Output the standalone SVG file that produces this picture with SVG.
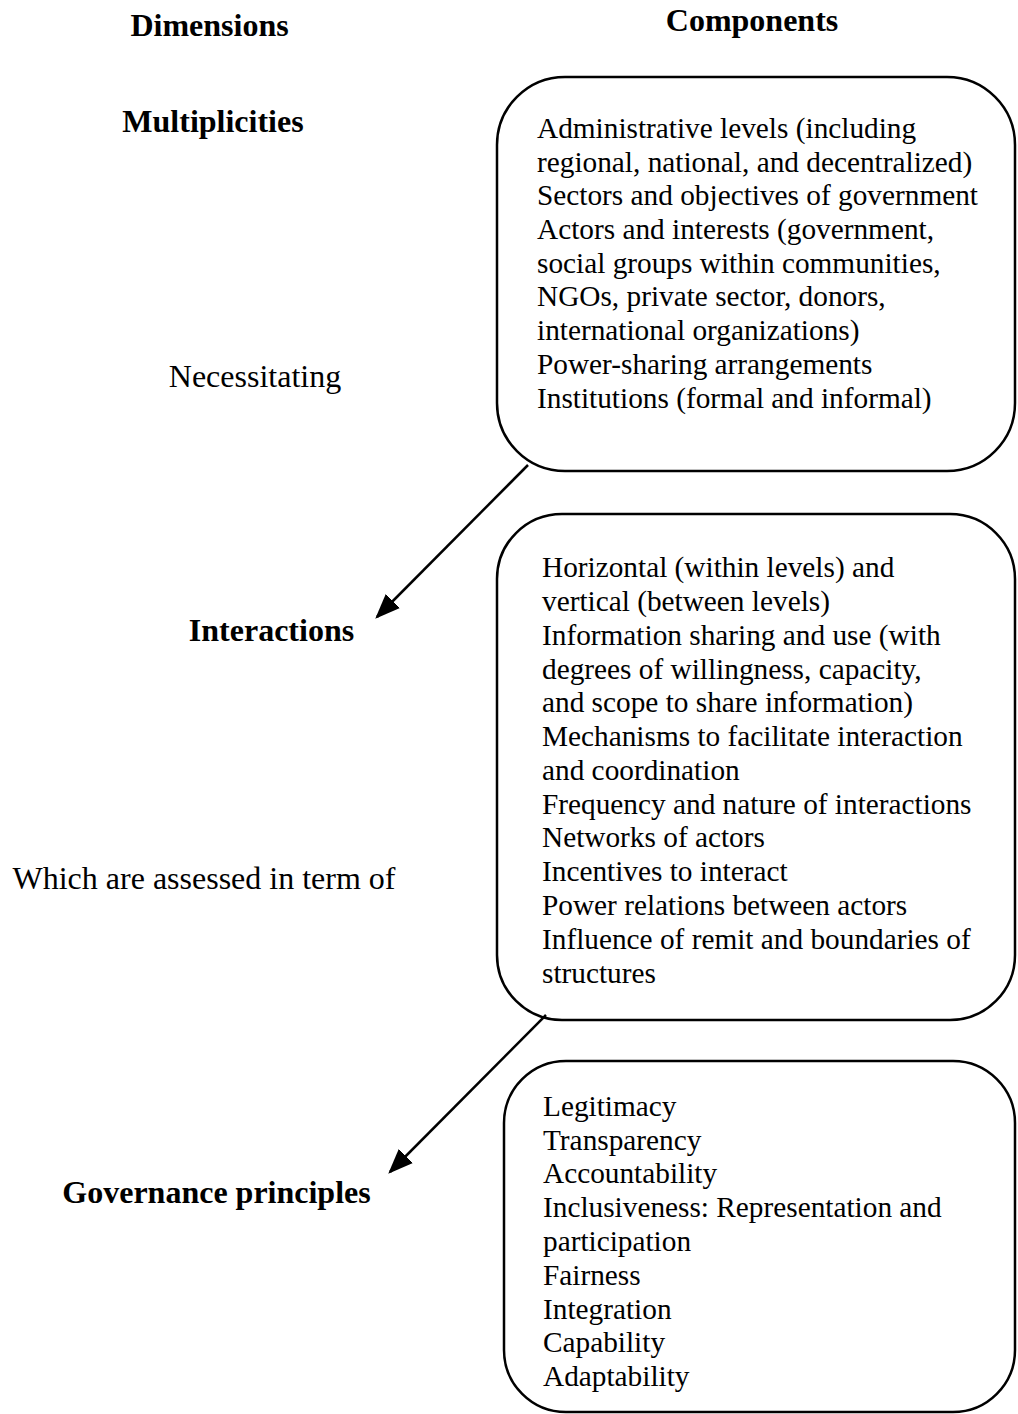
<svg xmlns="http://www.w3.org/2000/svg" width="1018" height="1414" viewBox="0 0 1018 1414">
<style>
text{font-family:"Liberation Serif","Times New Roman",serif;font-size:29.3px;fill:#000}
.lab{font-size:32px}
.b{font-weight:bold;font-size:32px}
.box{fill:#fff;stroke:#000;stroke-width:2.5}
.con{stroke:#000;stroke-width:2.5;fill:none}
</style>
<defs>
<marker id="ah" markerWidth="10" markerHeight="8" refX="9" refY="4" orient="auto" markerUnits="strokeWidth">
<path d="M0,0 L10,4 L0,8 z" fill="#000"/>
</marker>
</defs>
<rect width="1018" height="1414" fill="#fff"/>
<g id="headers">
<text class="b" x="209.5" y="36" text-anchor="middle">Dimensions</text>
<text class="b" x="752" y="31" text-anchor="middle">Components</text>
</g>
<g id="dim-multiplicities"><text class="b" x="213" y="132" text-anchor="middle">Multiplicities</text></g>
<g id="lbl-necessitating"><text class="lab" x="255" y="387" text-anchor="middle">Necessitating</text></g>
<g id="dim-interactions"><text class="b" x="271.5" y="641" text-anchor="middle">Interactions</text></g>
<g id="lbl-assessed"><text class="lab" x="204" y="889" text-anchor="middle">Which are assessed in term of</text></g>
<g id="dim-governance"><text class="b" x="216.5" y="1203" text-anchor="middle">Governance principles</text></g>
<g id="box-multiplicities">
<rect class="box" x="497" y="77" width="518" height="394" rx="68" ry="68"/>
<text x="537" y="138">Administrative levels (including</text>
<text x="537" y="172">regional, national, and decentralized)</text>
<text x="537" y="205">Sectors and objectives of government</text>
<text x="537" y="239">Actors and interests (government,</text>
<text x="537" y="273">social groups within communities,</text>
<text x="537" y="306">NGOs, private sector, donors,</text>
<text x="537" y="340">international organizations)</text>
<text x="537" y="374">Power-sharing arrangements</text>
<text x="537" y="408">Institutions (formal and informal)</text>
</g>
<g id="box-interactions">
<rect class="box" x="497" y="514" width="518" height="506" rx="65" ry="65"/>
<text x="542" y="577">Horizontal (within levels) and</text>
<text x="542" y="611">vertical (between levels)</text>
<text x="542" y="645">Information sharing and use (with</text>
<text x="542" y="679">degrees of willingness, capacity,</text>
<text x="542" y="712">and scope to share information)</text>
<text x="542" y="746">Mechanisms to facilitate interaction</text>
<text x="542" y="780">and coordination</text>
<text x="542" y="814">Frequency and nature of interactions</text>
<text x="542" y="847">Networks of actors</text>
<text x="542" y="881">Incentives to interact</text>
<text x="542" y="915">Power relations between actors</text>
<text x="542" y="949">Influence of remit and boundaries of</text>
<text x="542" y="983">structures</text>
</g>
<g id="box-governance">
<rect class="box" x="504" y="1061" width="511" height="351" rx="62" ry="62"/>
<text x="543" y="1116">Legitimacy</text>
<text x="543" y="1150">Transparency</text>
<text x="543" y="1183">Accountability</text>
<text x="543" y="1217">Inclusiveness: Representation and</text>
<text x="543" y="1251">participation</text>
<text x="543" y="1285">Fairness</text>
<text x="543" y="1319">Integration</text>
<text x="543" y="1352">Capability</text>
<text x="543" y="1386">Adaptability</text>
</g>
<g id="connectors">
<line class="con" x1="528" y1="465" x2="377" y2="617" marker-end="url(#ah)"/>
<line class="con" x1="546" y1="1015" x2="390" y2="1172" marker-end="url(#ah)"/>
</g>
</svg>
